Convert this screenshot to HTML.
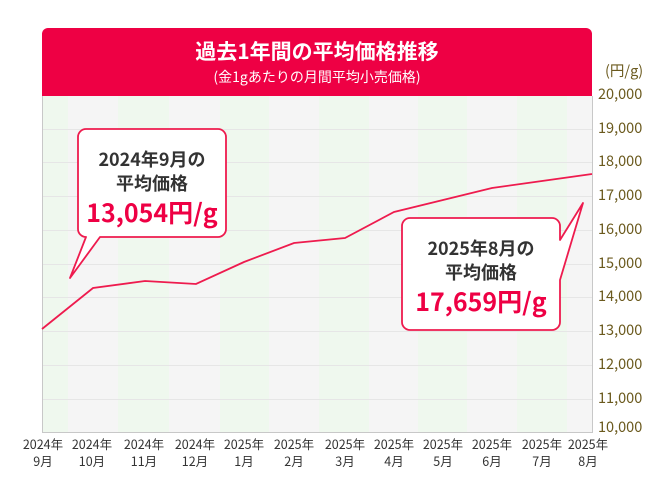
<!DOCTYPE html>
<html><head><meta charset="utf-8"><style>
body{margin:0;background:#fff;}
svg text{font-family:"Noto Sans CJK JP","Liberation Sans",sans-serif;}
</style></head><body>
<svg width="670" height="492" viewBox="0 0 670 492" xmlns="http://www.w3.org/2000/svg">
<rect x="42" y="96" width="550" height="336" fill="#f5f5f5"/>
<g fill="#eff8ee">
<rect x="42" y="96" width="26" height="336"/>
<rect x="118" y="96" width="51" height="336"/>
<rect x="220" y="96" width="49" height="336"/>
<rect x="319" y="96" width="50" height="336"/>
<rect x="418" y="96" width="49" height="336"/>
<rect x="517" y="96" width="50" height="336"/>
</g>
<g stroke="#e6e6e6" stroke-width="1">
<line x1="42" x2="592" y1="129.5" y2="129.5"/><line x1="42" x2="592" y1="162.5" y2="162.5"/>
<line x1="42" x2="592" y1="196.5" y2="196.5"/><line x1="42" x2="592" y1="230.5" y2="230.5"/>
<line x1="42" x2="592" y1="264.5" y2="264.5"/><line x1="42" x2="592" y1="297.5" y2="297.5"/>
<line x1="42" x2="592" y1="331.5" y2="331.5"/><line x1="42" x2="592" y1="365.5" y2="365.5"/>
<line x1="42" x2="592" y1="399.5" y2="399.5"/>
</g>
<path d="M42.5 96 V432.5 H592.5 V96" fill="none" stroke="#c8c8c8"/>
<path d="M48 28 h538 a6 6 0 0 1 6 6 V96 H42 V34 a6 6 0 0 1 6 -6z" fill="#ee0044"/>
<text x="317" y="59" fill="#fff" font-size="21" font-weight="bold" text-anchor="middle">過去1年間の平均価格推移</text>
<text x="317" y="82" fill="#fff" font-size="14" text-anchor="middle">(金1gあたりの月間平均小売価格)</text>
<g fill="#6b5a1e" font-size="14.5">
<text x="605" y="76">(円/g)</text>
<text x="598" y="99">20,000</text><text x="598" y="133">19,000</text><text x="598" y="166">18,000</text>
<text x="598" y="200">17,000</text><text x="598" y="234">16,000</text><text x="598" y="268">15,000</text>
<text x="598" y="301">14,000</text><text x="598" y="335">13,000</text><text x="598" y="369">12,000</text>
<text x="598" y="403">11,000</text><text x="598" y="432">10,000</text>
</g>
<polyline fill="none" stroke="#ee1b4e" stroke-width="1.8" points="42,329 93,288 145,281 196,284 244,262 294,243 345,238 394,212 443,200 492,188 542,181 592,174"/>
<g font-size="12.5" fill="#333" text-anchor="middle">
<text x="43" y="449">2024年</text><text x="43" y="466">9月</text>
<text x="92" y="449">2024年</text><text x="92" y="466">10月</text>
<text x="144" y="449">2024年</text><text x="144" y="466">11月</text>
<text x="195" y="449">2024年</text><text x="195" y="466">12月</text>
<text x="244" y="449">2025年</text><text x="244" y="466">1月</text>
<text x="294" y="449">2025年</text><text x="294" y="466">2月</text>
<text x="345" y="449">2025年</text><text x="345" y="466">3月</text>
<text x="394" y="449">2025年</text><text x="394" y="466">4月</text>
<text x="443" y="449">2025年</text><text x="443" y="466">5月</text>
<text x="492" y="449">2025年</text><text x="492" y="466">6月</text>
<text x="542" y="449">2025年</text><text x="542" y="466">7月</text>
<text x="588" y="449">2025年</text><text x="588" y="466">8月</text>
</g>
<path d="M86 129 H218 a8 8 0 0 1 8 8 V229 a8 8 0 0 1 -8 8 H100 L70 278 L86 237 H86 a8 8 0 0 1 -8 -8 V137 a8 8 0 0 1 8 -8z" fill="#fff" stroke="#ee1b4e" stroke-width="1.8" stroke-linejoin="round"/>
<text x="152" y="166" font-size="18" font-weight="bold" fill="#333" text-anchor="middle">2024年9月の</text>
<text x="152" y="190" font-size="18" font-weight="bold" fill="#333" text-anchor="middle">平均価格</text>
<text x="152" y="222" font-size="25" font-weight="bold" fill="#ee0044" text-anchor="middle">13,054円/g</text>
<path d="M410 218 H552 a8 8 0 0 1 8 8 V240 L583 203 L560 280 V322 a8 8 0 0 1 -8 8 H410 a8 8 0 0 1 -8 -8 V226 a8 8 0 0 1 8 -8z" fill="#fff" stroke="#ee1b4e" stroke-width="1.8" stroke-linejoin="round"/>
<text x="481" y="255" font-size="18" font-weight="bold" fill="#333" text-anchor="middle">2025年8月の</text>
<text x="481" y="279" font-size="18" font-weight="bold" fill="#333" text-anchor="middle">平均価格</text>
<text x="481" y="311" font-size="25" font-weight="bold" fill="#ee0044" text-anchor="middle">17,659円/g</text>
</svg>
</body></html>
